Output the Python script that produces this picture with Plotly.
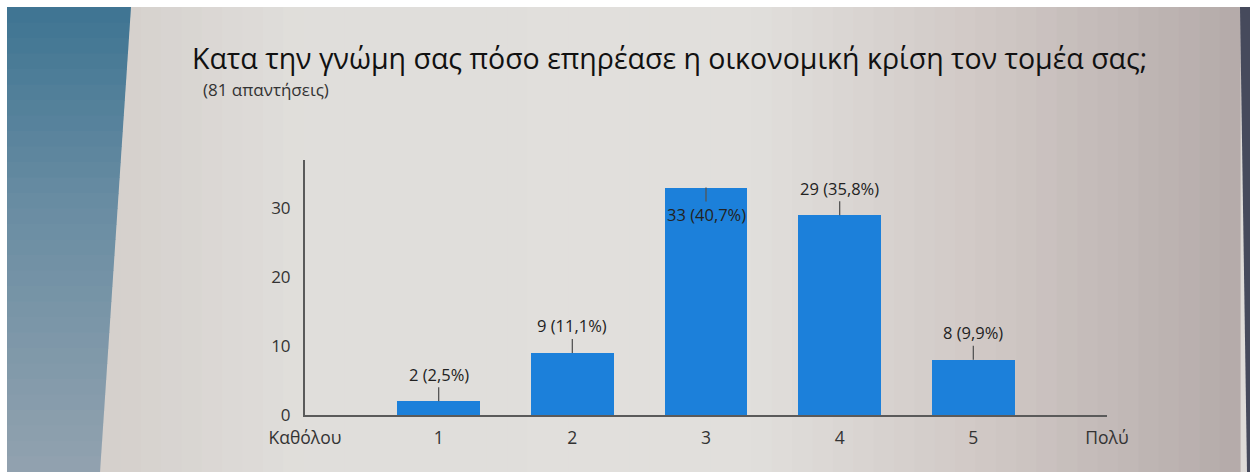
import plotly.graph_objects as go

# Survey answers on a 1..5 scale with end labels
positions = [1, 2, 3, 4, 5]
counts = [2, 9, 33, 29, 8]
percent_labels = ["2,5%", "11,1%", "40,7%", "35,8%", "9,9%"]
tick_positions = [0, 1, 2, 3, 4, 5, 6]
tick_labels = ["Καθόλου", "1", "2", "3", "4", "5", "Πολύ"]
y_ticks = [0, 10, 20, 30]

title_text = "Κατα την γνώμη σας πόσο επηρέασε η οικονομική κρίση τον τομέα σας;"
subtitle_text = "(81 απαντήσεις)"

W, H = 1250, 472
BAR_COLOR = "rgb(28,128,218)"
FONT = "Open Sans, Liberation Sans, Arial, sans-serif"

fig = go.Figure()
fig.add_trace(go.Bar(
    x=positions, y=counts, width=0.62,
    marker=dict(color=BAR_COLOR, line=dict(width=0)),
    hoverinfo="skip",
))

# Value labels with short leader lines; the tallest bar's label sits inside
y_max = 37
annotations = []
for xv, c, p in zip(positions, counts, percent_labels):
    inside = c == max(counts)
    annotations.append(dict(
        x=xv, y=c, xref="x", yref="y",
        text=f"{c} ({p})", showarrow=True, arrowhead=0, arrowwidth=1.3,
        arrowcolor="#555", ax=0, ay=27 if inside else -27,
        font=dict(family=FONT, size=16.5, color="#222"),
    ))

annotations.append(dict(
    x=190, y=H - 58, xref="paper", yref="paper", text=title_text, showarrow=False,
    xanchor="left", yanchor="middle",
    font=dict(family=FONT, size=28.5, color="#111"),
))
annotations.append(dict(
    x=201, y=H - 89, xref="paper", yref="paper", text=subtitle_text, showarrow=False,
    xanchor="left", yanchor="middle",
    font=dict(family=FONT, size=17, color="#333"),
))

# Convert pixel positions into paper fractions for the layout overlay
left, right, top, bottom = 305, 143, 160, 57
pw, ph = W - left - right, H - top - bottom
for a in annotations:
    if a["xref"] == "paper":
        a["x"] = (a["x"] - left) / pw
        a["y"] = (a["y"] - bottom) / ph


def px(x):
    return (x - left) / pw


def py(y):
    return (H - y - bottom) / ph


def lerp_rgb(stops, t):
    for (t0, c0), (t1, c1) in zip(stops[:-1], stops[1:]):
        if t0 <= t <= t1:
            f = (t - t0) / (t1 - t0) if t1 > t0 else 0
            return "rgb(%d,%d,%d)" % tuple(round(a + (b - a) * f) for a, b in zip(c0, c1))
    return "rgb(%d,%d,%d)" % stops[-1][1]


shapes = []
# screen background: lighter in the middle, warmer and darker towards the right
bg_stops = [(100, (212, 207, 203)), (300, (224, 222, 219)), (750, (225, 223, 220)),
            (1000, (207, 199, 196)), (1240, (180, 170, 169))]
n = 56
xs = [100 + i * (1240 - 100) / n for i in range(n + 1)]
for x0, x1 in zip(xs[:-1], xs[1:]):
    shapes.append(dict(type="rect", xref="paper", yref="paper", layer="below",
                       x0=px(x0), x1=px(x1 + 0.6), y0=py(H), y1=py(0),
                       fillcolor=lerp_rgb(bg_stops, (x0 + x1) / 2), line=dict(width=0)))

# bluish screen edge on the left, shaded from top to bottom
edge_stops = [(7, (62, 116, 146)), (200, (104, 140, 162)), (472, (146, 162, 175))]
m = 30
ys = [7 + i * (472 - 7) / m for i in range(m + 1)]
for y0, y1 in zip(ys[:-1], ys[1:]):
    xa = 131 - (y0 - 7) * 31 / 465
    xb = 131 - (y1 - 7) * 31 / 465
    shapes.append(dict(
        type="path", xref="paper", yref="paper", layer="below",
        path=f"M {px(7)},{py(y0)} L {px(xa)},{py(y0)} L {px(xb)},{py(y1 + 0.6)} L {px(7)},{py(y1 + 0.6)} Z",
        fillcolor=lerp_rgb(edge_stops, (y0 + y1) / 2), line=dict(width=0)))
shapes += [
    # white strips at the top and left edges
    dict(type="rect", xref="paper", yref="paper", layer="below",
         x0=px(0), x1=px(W), y0=py(0), y1=py(7), fillcolor="white", line=dict(width=0)),
    dict(type="rect", xref="paper", yref="paper", layer="below",
         x0=px(0), x1=px(7), y0=py(0), y1=py(H), fillcolor="white", line=dict(width=0)),
    # dark frame on the right
    dict(type="path", xref="paper", yref="paper", layer="below",
         path=f"M {px(1240)},{py(7)} L {px(W)},{py(7)} L {px(W)},{py(H)} L {px(1247)},{py(H)} Z",
         fillcolor="rgb(70,74,92)", line=dict(width=0)),
]

fig.update_layout(
    width=W, height=H,
    margin=dict(l=left, r=right, t=top, b=bottom, pad=0),
    paper_bgcolor="rgb(222,219,216)",
    plot_bgcolor="rgba(0,0,0,0)",
    showlegend=False,
    bargap=0,
    annotations=annotations,
    shapes=shapes,
    font=dict(family=FONT, size=16, color="#333"),
    xaxis=dict(
        range=[0, 6], tickmode="array", tickvals=tick_positions, ticktext=tick_labels,
        showgrid=False, zeroline=False, showline=True, linecolor="#5a5a5a", linewidth=2,
        ticks="", ticklabelstandoff=6, tickfont=dict(family=FONT, size=17.5, color="#333"),
        fixedrange=True,
    ),
    yaxis=dict(
        range=[0, y_max], tickmode="array", tickvals=y_ticks,
        showgrid=False, zeroline=False, showline=True, linecolor="#5a5a5a", linewidth=2,
        ticks="", ticklabelstandoff=9, tickfont=dict(family=FONT, size=17, color="#333"),
        fixedrange=True,
    ),
)

fig.write_html("out.html", config={"displayModeBar": False})
